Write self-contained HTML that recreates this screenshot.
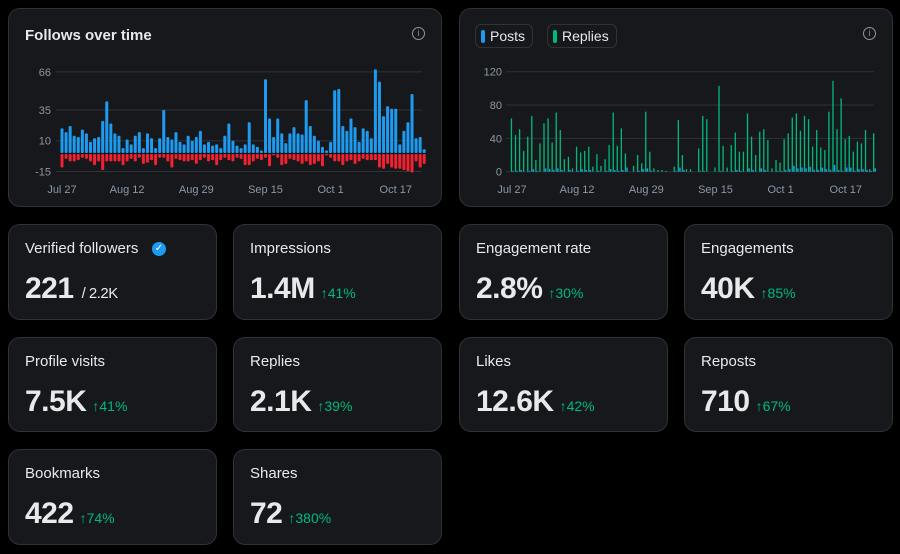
<!DOCTYPE html>
<html><head><meta charset="utf-8">
<style>
body{margin:0;width:900px;height:554px;background:#000;font-family:"Liberation Sans",sans-serif;color:#e7e9ea;position:relative;overflow:hidden}
.card{position:absolute;background:#16181c;border:1px solid #2f3336;border-radius:12px;box-sizing:border-box}
.lbl{position:absolute;left:16px;top:15px;font-size:15px;color:#e7e9ea;white-space:nowrap}
.val{position:absolute;left:16px;top:47px;font-size:30px;font-weight:bold;letter-spacing:-0.5px}
.chg{font-size:14px;color:#00ba7c;font-weight:normal;margin-left:6px;letter-spacing:0}
.title{position:absolute;left:16px;top:18px;font-size:15px;font-weight:bold}
.info{position:absolute;right:16px;top:18px;width:11px;height:11px;border:1.3px solid #8b98a5;border-radius:50%;font-size:9px;color:#8b98a5;text-align:center;line-height:11px}
.leg{position:absolute;top:15px;height:24px;border:1px solid #2f3336;border-radius:6px;box-sizing:border-box;font-size:14px;line-height:22px;padding:0 7px 0 14px}
.leg i{position:absolute;left:5px;top:5px;width:4px;height:13px;border-radius:2px}
svg{position:absolute;left:0;top:0}
.badge{position:absolute;left:143px;top:17px;width:14px;height:14px;border-radius:50%;background:#1d9bf0;color:#fff;font-size:10px;text-align:center;line-height:14px}
</style></head><body>
<div class="card" style="left:8px;top:8px;width:434px;height:199px">
<div class="title">Follows over time</div>
<div class="info">i</div>
<svg id="c1" width="434" height="199"></svg>
</div>
<div class="card" style="left:459px;top:8px;width:434px;height:199px">
<div class="leg" style="left:15px"><i style="background:#1d9bf0"></i>Posts</div>
<div class="leg" style="left:87px"><i style="background:#00ba7c"></i>Replies</div>
<div class="info">i</div>
<svg id="c2" width="434" height="199"></svg>
</div>

<div class="card" style="left:8px;top:224px;width:209px;height:96px"><div class="lbl">Verified followers</div><div class="badge">✓</div><div class="val">221<span style="font-size:15px;margin-left:8px;font-weight:normal">/ 2.2K</span></div></div>
<div class="card" style="left:233px;top:224px;width:209px;height:96px"><div class="lbl">Impressions</div><div class="val">1.4M<span class="chg">↑41%</span></div></div>
<div class="card" style="left:459px;top:224px;width:209px;height:96px"><div class="lbl">Engagement rate</div><div class="val">2.8%<span class="chg">↑30%</span></div></div>
<div class="card" style="left:684px;top:224px;width:209px;height:96px"><div class="lbl">Engagements</div><div class="val">40K<span class="chg">↑85%</span></div></div>
<div class="card" style="left:8px;top:337px;width:209px;height:95px"><div class="lbl">Profile visits</div><div class="val">7.5K<span class="chg">↑41%</span></div></div>
<div class="card" style="left:233px;top:337px;width:209px;height:95px"><div class="lbl">Replies</div><div class="val">2.1K<span class="chg">↑39%</span></div></div>
<div class="card" style="left:459px;top:337px;width:209px;height:95px"><div class="lbl">Likes</div><div class="val">12.6K<span class="chg">↑42%</span></div></div>
<div class="card" style="left:684px;top:337px;width:209px;height:95px"><div class="lbl">Reposts</div><div class="val">710<span class="chg">↑67%</span></div></div>
<div class="card" style="left:8px;top:449px;width:209px;height:96px"><div class="lbl">Bookmarks</div><div class="val">422<span class="chg">↑74%</span></div></div>
<div class="card" style="left:233px;top:449px;width:209px;height:96px"><div class="lbl">Shares</div><div class="val">72<span class="chg">↑380%</span></div></div>

<script>
const dateLabels=["Jul 27","Aug 12","Aug 29","Sep 15","Oct 1","Oct 17"];
const dateIdx=[0,16,33,50,66,82];
const yTicks1=[66,35,10,-15];
const yTicks2=[120,80,40,0];
const follows=[20,17,22,14,13,19,16,9,12,13,26,42,24,16,14,4,11,7,14,17,4,16,12,4,12,35,13,11,17,9,7,14,10,13,18,7,9,6,7,4,14,24,10,6,4,7,25,7,5,2,60,28,13,28,16,8,16,21,16,15,43,22,14,10,5,2,9,51,52,22,18,28,21,9,20,18,12,68,58,30,38,36,36,7,18,25,48,12,13,3];
const unfollows=[11,4,6,6,5,3,4,6,9,6,13,6,6,6,6,9,6,4,6,3,8,7,5,9,3,3,6,11,4,5,6,6,5,8,5,3,6,5,9,5,3,5,6,3,4,9,9,6,4,5,3,10,1,3,9,8,4,5,6,8,6,9,8,6,10,1,3,6,6,9,6,5,8,6,4,5,5,5,11,12,8,11,12,12,13,14,15,6,11,8];
const replies=[64,44,51,25,42,67,14,34,58,64,35,71,50,15,18,4,30,23,25,30,6,21,7,15,32,71,31,52,22,0,7,20,10,72,24,4,2,2,1,0,6,62,20,3,3,0,28,67,63,0,5,103,31,5,32,47,24,24,70,42,20,48,51,38,4,14,11,39,46,65,70,49,67,63,30,50,29,26,72,109,51,88,39,43,24,36,34,50,3,46];
const posts=[1,1,2,0,1,3,1,0,4,3,2,4,2,0,2,0,1,3,2,2,0,1,0,1,3,2,1,2,5,0,0,1,3,4,1,0,0,0,0,0,1,5,2,0,0,0,1,1,0,0,0,1,0,0,1,2,1,0,4,2,0,4,2,0,0,1,1,2,3,7,4,5,4,6,2,2,5,3,2,8,2,1,5,5,1,3,3,2,1,4];
const NS="http://www.w3.org/2000/svg";
function mk(svg,tag,a){const e=document.createElementNS(NS,tag);for(const k in a)e.setAttribute(k,a[k]);svg.appendChild(e);return e;}
(function(){
const svg=document.getElementById('c1');
const x0=53,step=4.07,zeroY=144,ppu=1.23;
const X=i=>x0+i*step, Y=v=>zeroY-v*ppu;
yTicks1.forEach(t=>{
 const l=mk(svg,'line',{x1:47,x2:413,y1:Y(t),y2:Y(t),stroke:'#2f3238','stroke-width':1});
 
 
 const tx=mk(svg,'text',{x:42,y:Y(t)+4,'text-anchor':'end','font-size':11,fill:'#8b98a5'});tx.textContent=t;
 
 
});
follows.forEach((v,i)=>{
 const r=mk(svg,'rect',{x:X(i)-1.5,y:Y(v),width:3,height:v*ppu,fill:'#1d9bf0',rx:1});
 
 
});
unfollows.forEach((v,i)=>{
 const r=mk(svg,'rect',{x:X(i)-1.5,y:zeroY+1,width:3,height:v*ppu,fill:'#f4212e',rx:1});
 
 
});
dateLabels.forEach((d,k)=>{
 const tx=mk(svg,'text',{x:X(dateIdx[k]),y:184,'text-anchor':'middle','font-size':11,fill:'#8b98a5'});tx.textContent=d;
 
 
});
})();
(function(){
const svg=document.getElementById('c2');
const x0=52,step=4.07,zeroY=162.7,ppu=100/120;
const X=i=>x0+i*step, Y=v=>zeroY-v*ppu;
yTicks2.forEach(t=>{
 const l=mk(svg,'line',{x1:46,x2:414,y1:Y(t),y2:Y(t),stroke:'#2f3238','stroke-width':1});
 
 
 const tx=mk(svg,'text',{x:42,y:Y(t)+4,'text-anchor':'end','font-size':11,fill:'#8b98a5'});tx.textContent=t;
 
 
});
posts.forEach((v,i)=>{
 const r=mk(svg,'rect',{x:X(i)+0.3,y:Y(v),width:1.5,height:v*ppu,fill:'#1d9bf0'});
 
 
});
replies.forEach((v,i)=>{
 const r=mk(svg,'rect',{x:X(i)-1.2,y:Y(v),width:1.3,height:v*ppu,fill:'#00ba7c'});
 
 
});
dateLabels.forEach((d,k)=>{
 const tx=mk(svg,'text',{x:X(dateIdx[k]),y:184,'text-anchor':'middle','font-size':11,fill:'#8b98a5'});tx.textContent=d;
 
 
});
})();
</script>
</body></html>
